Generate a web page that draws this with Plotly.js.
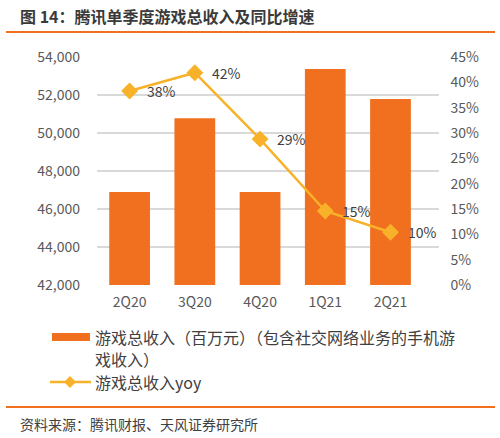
<!DOCTYPE html>
<html><head><meta charset="utf-8">
<script src="https://cdn.plot.ly/plotly-3.0.1.min.js"></script>
<style>body{margin:0;background:#fff}</style></head>
<body><div id="c" style="width:500px;height:438px"></div>
<script>
const categories = ['2Q20','3Q20','4Q20','1Q21','2Q21'];
const revenue = [46900, 50770, 46900, 53370, 51790];
const yoy = [38.3, 41.9, 28.8, 14.6, 10.4];
const yoyLabels = ['38%','42%','29%','15%','10%'];
const leftTicks = [42000,44000,46000,48000,50000,52000,54000];
const seriesBarName = '游戏总收入（百万元）（包含社交网络业务的手机游';
const seriesBarName2 = '戏收入）';
const seriesLineName = '游戏总收入yoy';
const titleText = '图 14：腾讯单季度游戏总收入及同比增速';
const sourceText = '资料来源：腾讯财报、天风证券研究所';

const W = 500, H = 438;
const px = v => v / W;
const py = v => 1 - v / H;
const FONT = '"Noto Sans CJK SC", "Noto Sans", sans-serif';
const ORANGE = '#F0701F';
const GOLD = '#F8B22A';
const TXT = '#404040';

const traces = [
  {type:'bar', x:categories, y:revenue, name:seriesBarName, marker:{color:ORANGE},
   width:0.625, xaxis:'x', yaxis:'y', hoverinfo:'x+y'},
  {type:'scatter', mode:'lines+markers', x:categories, y:yoy, name:seriesLineName,
   xaxis:'x', yaxis:'y2', line:{color:GOLD, width:2.5},
   marker:{symbol:'diamond', size:13, color:GOLD}}
];

const annotations = categories.map((c,i)=>({
  x:c, y:yoy[i], xref:'x', yref:'y2', text:yoyLabels[i], showarrow:false,
  xanchor:'left', yanchor:'middle', xshift:15, font:{family:FONT, size:14, color:TXT}
}));
annotations.push(
  {xref:'paper', yref:'paper', x:px(18), y:py(16), xanchor:'left', yanchor:'middle',
   text:'<b>'+titleText+'</b>', showarrow:false, font:{family:FONT, size:16, color:'#3a3a3a'}},
  {xref:'paper', yref:'paper', x:px(18), y:py(424), xanchor:'left', yanchor:'middle',
   text:sourceText, showarrow:false, font:{family:FONT, size:14, color:TXT}},
  {xref:'paper', yref:'paper', x:px(93), y:py(337), xanchor:'left', yanchor:'middle',
   text:seriesBarName, showarrow:false, font:{family:FONT, size:16, color:TXT}},
  {xref:'paper', yref:'paper', x:px(93), y:py(359), xanchor:'left', yanchor:'middle',
   text:seriesBarName2, showarrow:false, font:{family:FONT, size:16, color:TXT}},
  {xref:'paper', yref:'paper', x:px(93), y:py(382), xanchor:'left', yanchor:'middle',
   text:seriesLineName, showarrow:false, font:{family:FONT, size:16, color:TXT}}
);

const shapes = [
  {type:'line', xref:'paper', yref:'paper', x0:px(6), x1:px(495), y0:py(32), y1:py(32),
   line:{color:ORANGE, width:2}},
  {type:'line', xref:'paper', yref:'paper', x0:px(6), x1:px(495), y0:py(407), y1:py(407),
   line:{color:ORANGE, width:2}},
  {type:'rect', xref:'paper', yref:'paper', x0:px(52), x1:px(90), y0:py(333), y1:py(341),
   fillcolor:ORANGE, line:{width:0}},
  {type:'line', xref:'paper', yref:'paper', x0:px(50), x1:px(91), y0:py(382), y1:py(382),
   line:{color:GOLD, width:2.5}},
  {type:'path', xref:'paper', yref:'paper',
   path:`M ${px(70)} ${py(376)} L ${px(76)} ${py(382)} L ${px(70)} ${py(388)} L ${px(64)} ${py(382)} Z`,
   fillcolor:GOLD, line:{width:0}}
];

const layout = {
  width:W, height:H, margin:{l:0,r:0,t:0,b:0}, showlegend:false,
  paper_bgcolor:'#fff', plot_bgcolor:'#fff', font:{family:FONT, color:'#595959'},
  bargap:0.375,
  xaxis:{domain:[px(97), px(438.5)], type:'category', showgrid:false, zeroline:false,
    showline:false, ticks:'', tickfont:{family:FONT, size:14, color:'#595959'}, ticklabelstandoff:7},
  yaxis:{domain:[py(285), py(57)], range:[42000,54000], tickvals:leftTicks,
    tickformat:',d', showgrid:true, gridcolor:'#D9D9D9', gridwidth:1.3, zeroline:false,
    showline:false, ticks:'', tickfont:{family:FONT, size:14, color:'#595959'}, ticklabelstandoff:16},
  yaxis2:{domain:[py(285), py(57)], overlaying:'y', side:'right', range:[0,45], dtick:5,
    ticksuffix:'%', showgrid:false, zeroline:false, showline:false, ticks:'',
    tickfont:{family:FONT, size:14, color:'#595959'}, ticklabelstandoff:11},
  annotations, shapes
};
Plotly.newPlot('c', traces, layout, {displayModeBar:false, staticPlot:true});
</script></body></html>
